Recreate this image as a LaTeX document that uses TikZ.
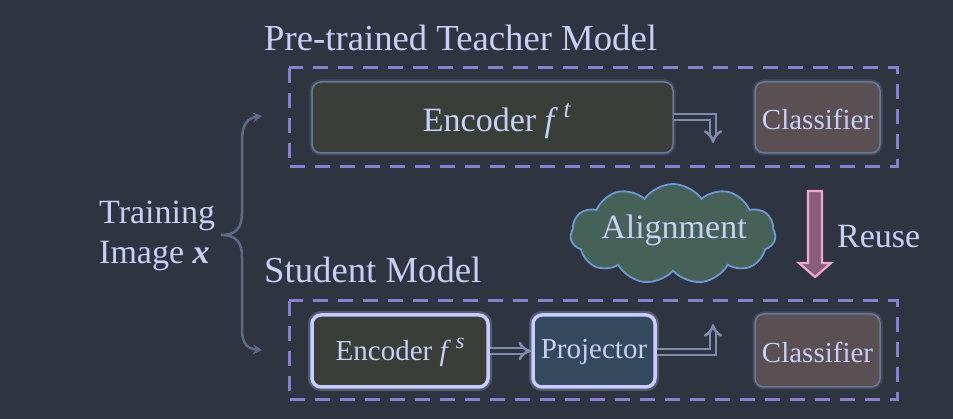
\documentclass[tikz,border=0pt]{standalone}
\usepackage{fontspec}
\setmainfont{Liberation Serif}
\usetikzlibrary{arrows.meta,shapes.symbols}
\definecolor{bg}{HTML}{2E3440}
\definecolor{txt}{HTML}{C8D0F8}
\definecolor{dashc}{HTML}{8A7FD0}
\definecolor{arrc}{HTML}{7E8CAE}
\definecolor{bracec}{HTML}{5E6A86}
\definecolor{encfill}{HTML}{3A3E38}
\definecolor{clsfill}{HTML}{5A4F53}
\definecolor{projfill}{HTML}{34485E}
\definecolor{cloudfill}{HTML}{466158}
\definecolor{cloudline}{HTML}{6C9AD6}
\definecolor{reusefill}{HTML}{8A5E7A}
\definecolor{reuseline}{HTML}{F0A8D0}
\definecolor{glowc}{HTML}{6A7898}
\definecolor{studline}{HTML}{C8CCFF}
\begin{document}
\begin{tikzpicture}[x=1pt,y=-1pt,
  every node/.style={text=txt},
  grp/.style={draw=dashc, line width=3pt, dash pattern=on 15pt off 10pt},
  tbox/.style={rounded corners=9pt, inner sep=0pt, draw=glowc, line width=1.5pt,
    preaction={draw=glowc, line width=5pt, opacity=0.35}},
  sbox/.style={rounded corners=9pt, inner sep=0pt, draw=studline, line width=3.5pt,
    preaction={draw=studline, line width=8pt, opacity=0.25}},
  dblarr/.style={draw=arrc, line width=2.6pt, double=bg, double distance=3.4pt,
    -{Implies[]}},
  big/.style={font=\fontsize{36.7}{42}\selectfont},
  mid/.style={font=\fontsize{34}{40}\selectfont},
  small/.style={font=\fontsize{29}{34}\selectfont}]
\fill[bg] (0,0) rectangle (953,419);
\useasboundingbox (0,0) rectangle (953,419);

% titles
\node[big, anchor=west, inner sep=0pt] (ttitle) at (264,38) {Pre-trained Teacher Model};
\node[big, anchor=west, inner sep=0pt] (stitle) at (264,270) {Student Model};

% group boxes
\draw[grp] (289,68) rectangle (897,167);
\draw[grp] (289,301) rectangle (897,400);

% teacher
\node[tbox, fill=encfill, minimum width=361pt, minimum height=71pt] (enct) at (492.5,117.5) {};
\node[mid, inner sep=0pt] (enctxt) at (497,121) {Encoder \textit{f}\,\raisebox{0.42em}{\fontsize{25}{25}\selectfont\textit{t}}};
\node[tbox, fill=clsfill, minimum width=125pt, minimum height=71pt] (clst) at (817.5,117.5) {};
\node[small, inner sep=0pt] (clsttxt) at (817.5,119) {Classifier};

% student
\node[sbox, fill=encfill, minimum width=176pt, minimum height=72pt] (encs) at (400,351) {};
\node[small, inner sep=0pt] (encstxt) at (400,352) {Encoder \textit{f}\,\raisebox{0.42em}{\fontsize{22}{22}\selectfont\textit{s}}};
\node[sbox, fill=projfill, minimum width=122pt, minimum height=72pt] (proj) at (594,351) {};
\node[small, inner sep=0pt] (projtxt) at (594,352) {Projector};
\node[tbox, fill=clsfill, minimum width=125pt, minimum height=73pt] (clss) at (817.5,350.5) {};
\node[small, inner sep=0pt] (clsstxt) at (817.5,352) {Classifier};

% arrows
\coordinate (tb) at (713,117);
\coordinate (tt) at (713,143);
\draw[dblarr] (enct.east |- tb) -- (tb) -- (tt);
\draw[dblarr] (encs.east) -- (proj.west);
\coordinate (sb) at (713,352);
\coordinate (st) at (713,324);
\draw[dblarr] (proj.east |- sb) -- (sb) -- (st);

% alignment cloud
\node[cloud, cloud puffs=11, cloud puff arc=110, aspect=2.1, draw=cloudline, line width=1.8pt,
  fill=cloudfill, minimum width=205pt, minimum height=100pt, inner sep=0pt] (align) at (673,234) {};
\node[mid, inner sep=0pt] (aligntxt) at (674,230) {Alignment};

% reuse arrow
\draw[draw=reuseline, fill=reusefill, line width=2.2pt, line join=miter]
  (808,191) -- (822,191) -- (822,263) -- (831,263) -- (815,277) -- (799,263) -- (808,263) -- cycle;
\node[mid, anchor=west, inner sep=0pt] (reuse) at (837,237) {Reuse};

% training image
\node[mid, anchor=west, align=left, inner sep=0pt] (train) at (99,236) {Training\\Image \textbf{\textit{x}}};
\coordinate (btop) at (262,116);
\coordinate (bbot) at (262,350);
\coordinate (btip) at (221,235);
\draw[bracec, line width=2.5pt, {Stealth[length=9pt,width=10pt]}-{Stealth[length=9pt,width=10pt]}]
  (btop) .. controls (248,118) and (242,124) .. (242,140) -- (242,213)
  .. controls (242,228) and (236,235) .. (btip)
  .. controls (236,235) and (242,242) .. (242,257) -- (242,330)
  .. controls (242,344) and (248,349) .. (bbot);
\end{tikzpicture}
\end{document}
